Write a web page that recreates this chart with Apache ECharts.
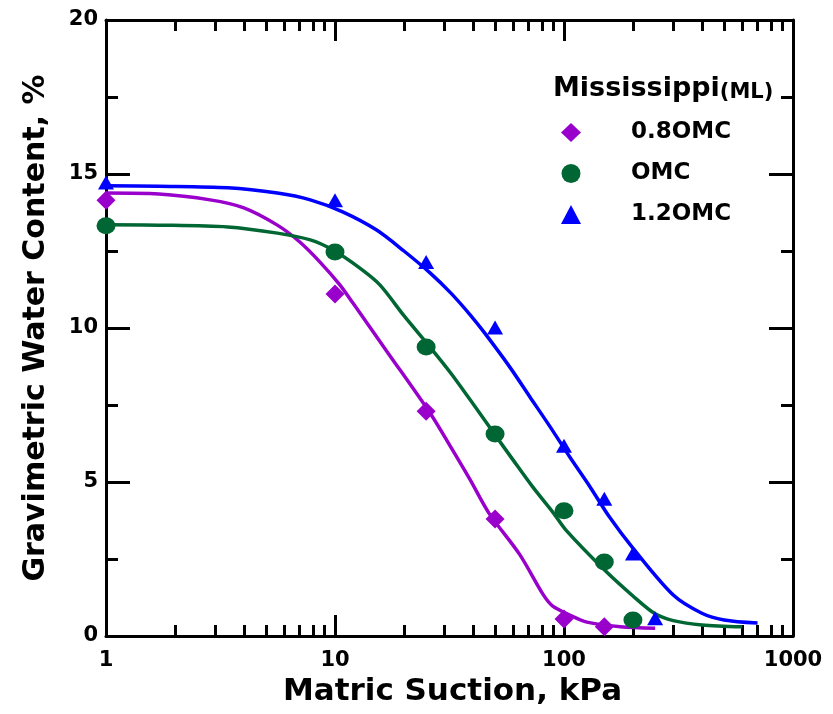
<!DOCTYPE html>
<html><head><meta charset="utf-8">
<script src="https://cdn.jsdelivr.net/npm/echarts@6/dist/echarts.min.js"></script>
<style>html,body{margin:0;padding:0;background:#fff}#c{width:833px;height:714px}</style>
</head><body><div id="c"></div>
<script>
// ---- data ----
const seriesNames = ['0.8OMC', 'OMC', '1.2OMC'];
const legendTitle = 'Mississippi';
const legendSub = '(ML)';
const xAxisName = 'Matric Suction, kPa';
const yAxisName = 'Gravimetric Water Content, %';

// measured points
const x08 = [1, 10, 25, 50, 100, 150];
const y08 = [14.15, 11.1, 7.3, 3.8, 0.55, 0.3];
const xOMC = [1, 10, 25, 50, 100, 150, 200];
const yOMC = [13.32, 12.47, 9.38, 6.56, 4.07, 2.4, 0.52];
const x12 = [1, 10, 25, 50, 100, 150, 200, 250];
const y12 = [14.72, 14.15, 12.14, 10.02, 6.18, 4.46, 2.68, 0.58];

// fitted curves
const fitX08 = [1, 1.7, 2.85, 4, 5.6, 7, 8.6, 10.5, 12, 17, 26, 32, 39, 47, 64, 81, 89, 106, 126, 176, 250];
const fitY08 = [14.38, 14.35, 14.16, 13.9, 13.34, 12.8, 12.14, 11.4, 10.8, 9.2, 7.24, 6.14, 5.06, 3.99, 2.65, 1.35, 0.98, 0.68, 0.45, 0.3, 0.25];
const fitXOMC = [1, 1.7, 3.4, 5.6, 7.8, 9.8, 12.8, 15.7, 20, 26, 32, 39, 49, 60, 73, 90, 102, 150, 200, 250, 300, 400, 600];
const fitYOMC = [13.35, 13.34, 13.28, 13.08, 12.86, 12.53, 11.95, 11.4, 10.4, 9.38, 8.54, 7.66, 6.62, 5.71, 4.84, 3.99, 3.44, 2.15, 1.3, 0.72, 0.5, 0.36, 0.3];
const fitX12 = [1, 1.7, 3.4, 5.6, 7.8, 10.8, 15.2, 20, 26, 32, 39, 45, 58, 71, 87, 106, 130, 158, 200, 300, 400, 500, 700];
const fitY12 = [14.62, 14.6, 14.55, 14.38, 14.16, 13.77, 13.18, 12.5, 11.79, 11.14, 10.42, 9.84, 8.73, 7.76, 6.79, 5.81, 4.84, 3.86, 2.85, 1.33, 0.74, 0.52, 0.42];

const xMin = 1, xMax = 1000;
const yMin = 0, yMax = 20, yStep = 5;

// ---- styling ----
const FONT = 'DejaVu Sans';
const colors = ['#9900CC', '#006633', '#0000FF'];
const symbols = ['diamond', 'circle', 'triangle'];
const symSizes = [[19, 19], [19, 17], [16, 14]];

const zip = (xs, ys) => xs.map((x, i) => [x, ys[i]]);
const pts = [zip(x08, y08), zip(xOMC, yOMC), zip(x12, y12)];
const fits = [zip(fitX08, fitY08), zip(fitXOMC, fitYOMC), zip(fitX12, fitY12)];

const axisLine = { show: true, onZero: false, lineStyle: { color: '#000', width: 3 } };

const series = [];
fits.forEach((d, i) => {
  series.push({
    name: seriesNames[i] + ' fit', type: 'line', data: d, smooth: 0.3,
    showSymbol: false, symbol: 'none', xAxisIndex: 0, yAxisIndex: 0,
    lineStyle: { color: colors[i], width: 3.5 }, z: 2, silent: true
  });
});
pts.forEach((d, i) => {
  series.push({
    name: seriesNames[i], type: 'scatter', data: d, symbol: symbols[i],
    symbolSize: symSizes[i], itemStyle: { color: colors[i], opacity: 1 },
    xAxisIndex: 0, yAxisIndex: 0, z: 3
  });
});

const chart = echarts.init(document.getElementById('c'), null, { renderer: 'canvas' });
chart.setOption({
  animation: false,
  backgroundColor: '#fff',
  title: {
    text: '{a|' + legendTitle + '}{b|' + legendSub + '}',
    left: 553, top: 72, padding: 0,
    textStyle: {
      rich: {
        a: { fontFamily: FONT, fontWeight: 'bold', fontSize: 27, color: '#000', lineHeight: 30, verticalAlign: 'bottom' },
        b: { fontFamily: FONT, fontWeight: 'bold', fontSize: 21, color: '#000', lineHeight: 30, verticalAlign: 'bottom', padding: [0, 0, -1, 0] }
      }
    }
  },
  legend: {
    data: seriesNames.map((n, i) => ({ name: n, icon: symbols[i] })),
    orient: 'vertical', left: 561, top: 121, padding: 0,
    itemWidth: 20, itemHeight: 19, itemGap: 18,
    formatter: n => '{t|' + n + '}',
    textStyle: {
      rich: { t: { fontFamily: FONT, fontWeight: 'bold', fontSize: 23, lineHeight: 19, color: '#000', padding: [0, 0, 0, 45] } }
    },
    selectedMode: false
  },
  grid: { left: 106, right: 40, top: 20, bottom: 78, containLabel: false },
  xAxis: [{
    type: 'log', logBase: 10, min: xMin, max: xMax, position: 'bottom',
    name: xAxisName, nameLocation: 'middle', nameGap: 40,
    nameTextStyle: { fontFamily: FONT, fontWeight: 'bold', fontSize: 31, color: '#000', padding: [0, 0, 0, 6] },
    axisLine: axisLine,
    axisTick: { show: true, inside: true, length: 21, lineStyle: { color: '#000', width: 3 } },
    minorTick: { show: true, splitNumber: 9, length: 11, lineStyle: { color: '#000', width: 3 } },
    axisLabel: { fontFamily: FONT, fontWeight: 'bold', fontSize: 21, color: '#000', margin: 14,
                 formatter: v => String(Math.round(v)) },
    splitLine: { show: false }, minorSplitLine: { show: false }
  }, {
    type: 'log', logBase: 10, min: xMin, max: xMax, position: 'top',
    axisLine: axisLine,
    axisTick: { show: true, inside: true, length: 21, lineStyle: { color: '#000', width: 3 } },
    minorTick: { show: true, splitNumber: 9, length: 11, lineStyle: { color: '#000', width: 3 } },
    axisLabel: { show: false }, splitLine: { show: false }
  }],
  yAxis: [{
    type: 'value', min: yMin, max: yMax, interval: yStep, position: 'left',
    name: yAxisName, nameLocation: 'middle', nameGap: 55, nameRotate: 90,
    nameTextStyle: { fontFamily: FONT, fontWeight: 'bold', fontSize: 30, color: '#000' },
    axisLine: axisLine,
    axisTick: { show: true, inside: true, length: 24, lineStyle: { color: '#000', width: 3 } },
    minorTick: { show: true, splitNumber: 2, length: 12, lineStyle: { color: '#000', width: 3 } },
    axisLabel: { fontFamily: FONT, fontWeight: 'bold', fontSize: 21, color: '#000', margin: 8 },
    splitLine: { show: false }
  }, {
    type: 'value', min: yMin, max: yMax, interval: yStep, position: 'right',
    axisLine: axisLine,
    axisTick: { show: true, inside: true, length: 24, lineStyle: { color: '#000', width: 3 } },
    minorTick: { show: true, splitNumber: 2, length: 12, lineStyle: { color: '#000', width: 3 } },
    axisLabel: { show: false }, splitLine: { show: false }
  }],
  series: series
});
</script></body></html>
